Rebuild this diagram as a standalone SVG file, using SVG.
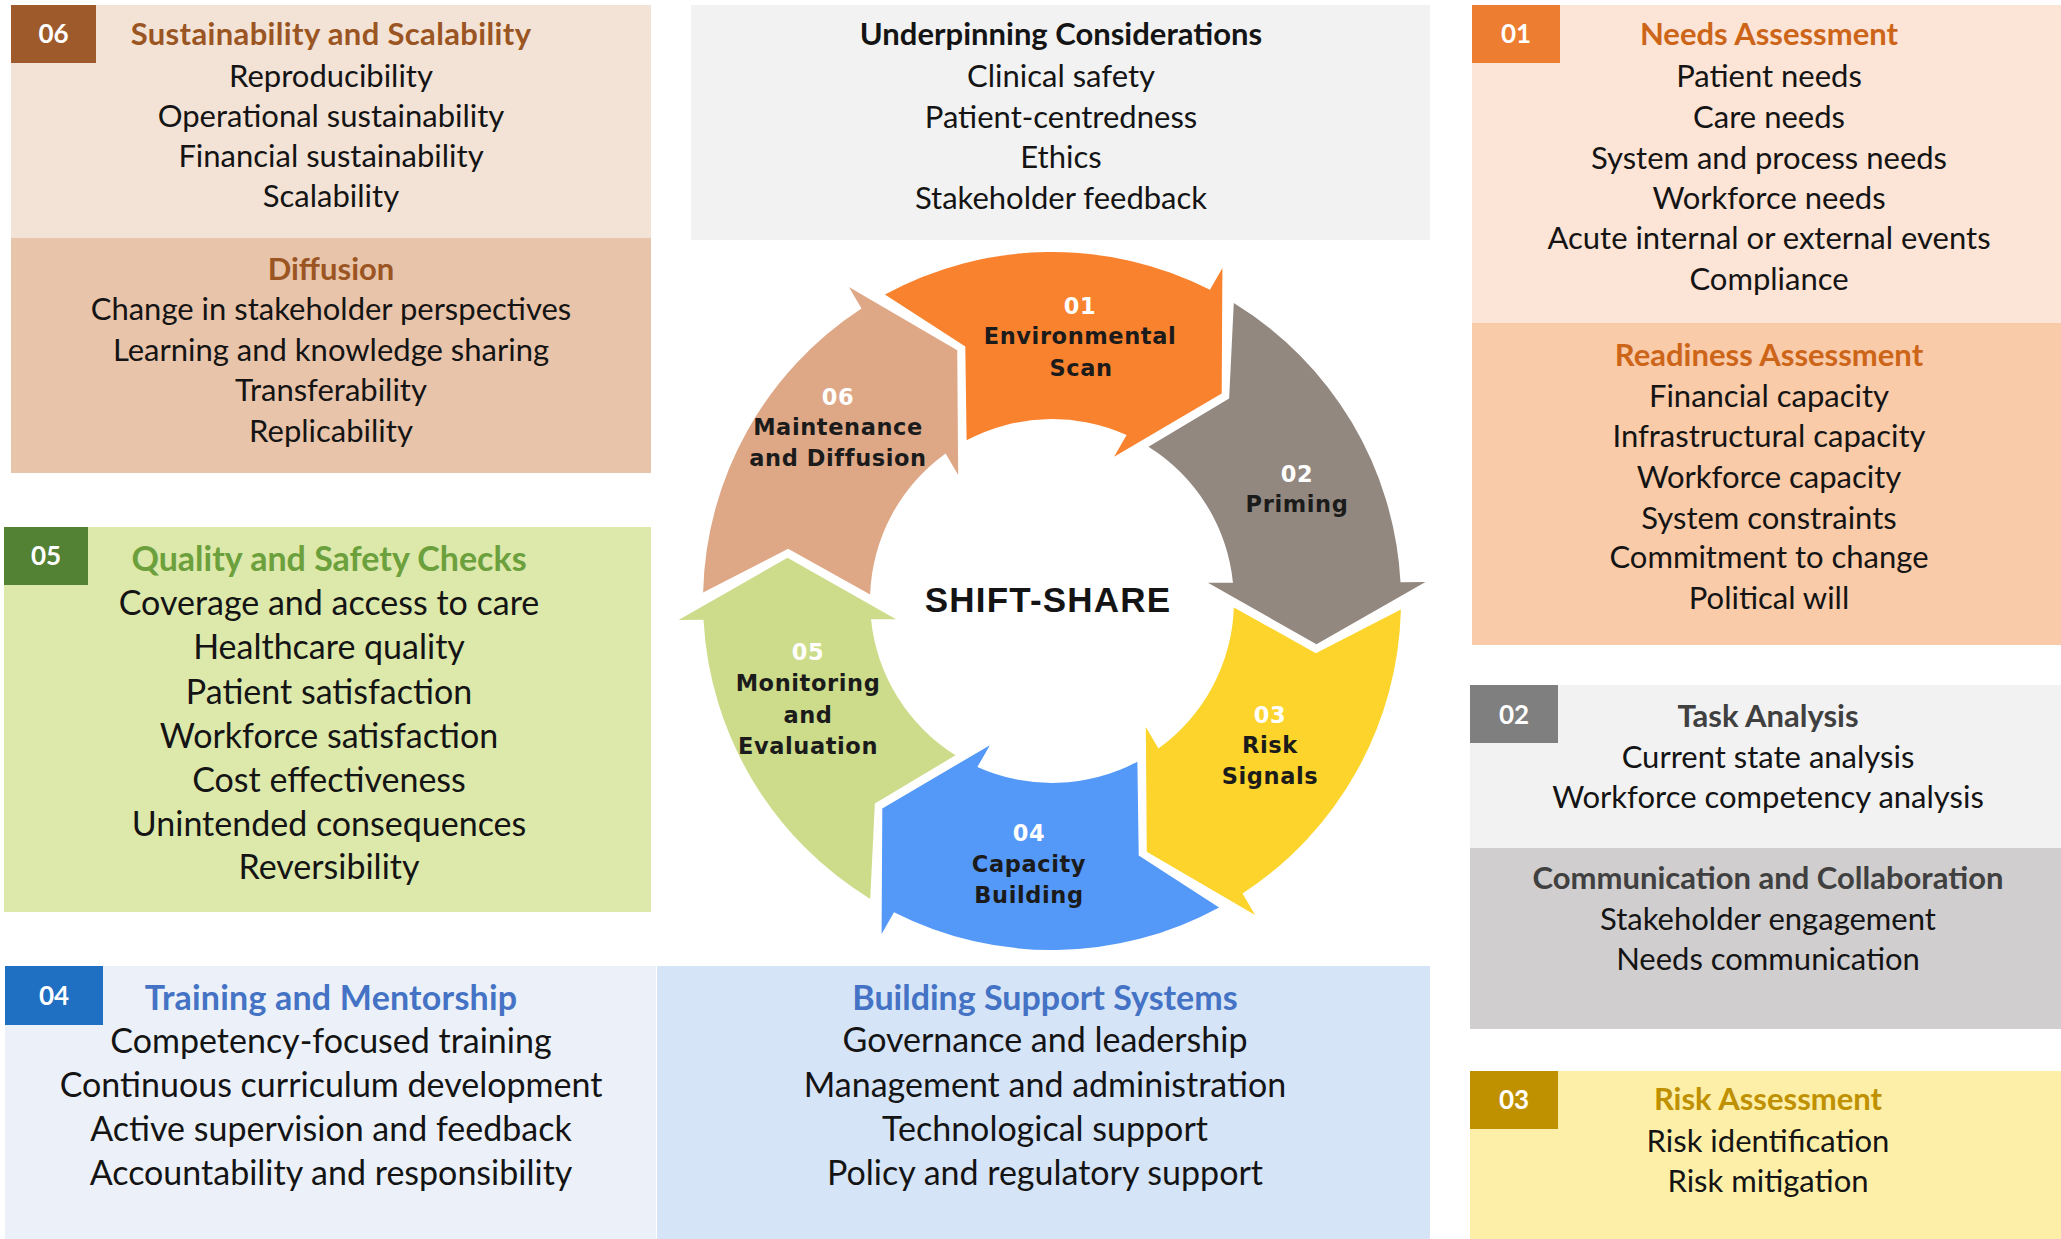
<svg xmlns="http://www.w3.org/2000/svg" width="2061" height="1239" viewBox="0 0 2061 1239">
  <style>
    .t { font-family: Lato, "Open Sans", "Liberation Sans", sans-serif; text-anchor: middle; fill: #141414; }
    .m { font-size: 31px; }
    .l { font-size: 34px; }
    .b { font-weight: 700; }
    .badge { font-family: Lato, "Liberation Sans", sans-serif; font-weight: 700; font-size: 26px; fill: #ffffff; text-anchor: middle; }
    .arrow-label { font-family: "DejaVu Sans", Verdana, sans-serif; font-weight: 700; font-size: 22.5px; letter-spacing: 0.6px; text-anchor: middle; fill: #1b1b1b; }
    .arrow-num { fill: #ffffff; }
    .hub { font-family: "Liberation Sans", Arial, sans-serif; font-weight: 700; font-size: 35px; letter-spacing: 1.2px; text-anchor: middle; fill: #141414; }
  </style>
  <defs>
    <!-- one curved arrow segment of the cycle (stage 01 position); the others are rotations about the hub -->
    <path id="cycle-arrow" d="M 884.9 294.6 L 965.3 346.4 L 966.6 440.3 A 182 182 0 0 1 1126.6 435.1 L 1114.1 456.8 L 1221.7 393.6 L 1222.4 268.1 L 1210.0 289.8 A 349 349 0 0 0 884.9 294.6 Z"/>
  </defs>

  <rect width="2061" height="1239" fill="#ffffff"/>

  <!-- 06 Sustainability and Scalability / Diffusion -->
  <g id="box-06">
    <rect x="11" y="5" width="640" height="233" fill="#F3E3D7"/>
    <rect x="11" y="238" width="640" height="235" fill="#E8C4AA"/>
    <rect x="11" y="5" width="85" height="58" fill="#9E5A2A"/>
    <text class="badge" x="53.5" y="43">06</text>
    <g transform="translate(331 0)">
      <text class="t m b" x="0" y="45" style="fill:#9A5522; letter-spacing:0.35px">Sustainability and Scalability</text>
      <text class="t m" x="0" y="87">Reproducibility</text>
      <text class="t m" x="0" y="127">Operational sustainability</text>
      <text class="t m" x="0" y="167">Financial sustainability</text>
      <text class="t m" x="0" y="207">Scalability</text>
      <text class="t m b" x="0" y="280" style="fill:#9A5522">Diffusion</text>
      <text class="t m" x="0" y="320">Change in stakeholder perspectives</text>
      <text class="t m" x="0" y="361">Learning and knowledge sharing</text>
      <text class="t m" x="0" y="401">Transferability</text>
      <text class="t m" x="0" y="442">Replicability</text>
    </g>
  </g>

  <!-- Underpinning considerations -->
  <g id="underpinning">
    <rect x="691" y="5" width="739" height="235" fill="#F2F2F2"/>
    <g transform="translate(1061 0)">
      <text class="t m b" x="0" y="45">Underpinning Considerations</text>
      <text class="t m" x="0" y="87">Clinical safety</text>
      <text class="t m" x="0" y="128">Patient-centredness</text>
      <text class="t m" x="0" y="168">Ethics</text>
      <text class="t m" x="0" y="209">Stakeholder feedback</text>
    </g>
  </g>

  <!-- 01 Needs / Readiness assessment -->
  <g id="box-01">
    <rect x="1472" y="5" width="589" height="318" fill="#FCE4D6"/>
    <rect x="1472" y="323" width="589" height="322" fill="#F9CBA9"/>
    <rect x="1472" y="5" width="88" height="58" fill="#ED7D31"/>
    <text class="badge" x="1516" y="43">01</text>
    <g transform="translate(1769 0)">
      <text class="t m b" x="0" y="45" style="fill:#CD6519">Needs Assessment</text>
      <text class="t m" x="0" y="87">Patient needs</text>
      <text class="t m" x="0" y="128">Care needs</text>
      <text class="t m" x="0" y="169">System and process needs</text>
      <text class="t m" x="0" y="209">Workforce needs</text>
      <text class="t m" x="0" y="249">Acute internal or external events</text>
      <text class="t m" x="0" y="290">Compliance</text>
      <text class="t m b" x="0" y="366" style="fill:#CD6519">Readiness Assessment</text>
      <text class="t m" x="0" y="407">Financial capacity</text>
      <text class="t m" x="0" y="447">Infrastructural capacity</text>
      <text class="t m" x="0" y="488">Workforce capacity</text>
      <text class="t m" x="0" y="529">System constraints</text>
      <text class="t m" x="0" y="568">Commitment to change</text>
      <text class="t m" x="0" y="609">Political will</text>
    </g>
  </g>

  <!-- 02 Task analysis / Communication -->
  <g id="box-02">
    <rect x="1470" y="685" width="591" height="163" fill="#F2F2F2"/>
    <rect x="1470" y="848" width="591" height="181" fill="#D0CECE"/>
    <rect x="1470" y="685" width="88" height="58" fill="#7F7F7F"/>
    <text class="badge" x="1514" y="724">02</text>
    <g transform="translate(1768 0)">
      <text class="t m b" x="0" y="727" style="fill:#404040">Task Analysis</text>
      <text class="t m" x="0" y="768">Current state analysis</text>
      <text class="t m" x="0" y="808">Workforce competency analysis</text>
      <text class="t m b" x="0" y="889" style="fill:#404040">Communication and Collaboration</text>
      <text class="t m" x="0" y="930">Stakeholder engagement</text>
      <text class="t m" x="0" y="970">Needs communication</text>
    </g>
  </g>

  <!-- 03 Risk assessment -->
  <g id="box-03">
    <rect x="1470" y="1071" width="591" height="168" fill="#FDEFA8"/>
    <rect x="1470" y="1071" width="88" height="58" fill="#BF9000"/>
    <text class="badge" x="1514" y="1109">03</text>
    <g transform="translate(1768 0)">
      <text class="t m b" x="0" y="1110" style="fill:#BF9000">Risk Assessment</text>
      <text class="t m" x="0" y="1152">Risk identification</text>
      <text class="t m" x="0" y="1192">Risk mitigation</text>
    </g>
  </g>

  <!-- 05 Quality and safety checks -->
  <g id="box-05">
    <rect x="4" y="527" width="647" height="385" fill="#DDE8AB"/>
    <rect x="4" y="527" width="84" height="58" fill="#548235"/>
    <text class="badge" x="46" y="565">05</text>
    <g transform="translate(329 0)">
      <text class="t l b" x="0" y="571" style="fill:#6BA03C">Quality and Safety Checks</text>
      <text class="t l" x="0" y="615">Coverage and access to care</text>
      <text class="t l" x="0" y="659">Healthcare quality</text>
      <text class="t l" x="0" y="704">Patient satisfaction</text>
      <text class="t l" x="0" y="748">Workforce satisfaction</text>
      <text class="t l" x="0" y="792">Cost effectiveness</text>
      <text class="t l" x="0" y="836">Unintended consequences</text>
      <text class="t l" x="0" y="879">Reversibility</text>
    </g>
  </g>

  <!-- 04 Training and mentorship -->
  <g id="box-04">
    <rect x="5" y="966" width="651" height="273" fill="#ECF1F9"/>
    <rect x="5" y="966" width="98" height="59" fill="#1F6FC3"/>
    <text class="badge" x="54" y="1005">04</text>
    <g transform="translate(331 0)">
      <text class="t l b" x="0" y="1010" style="fill:#4472C4; letter-spacing:0.2px">Training and Mentorship</text>
      <text class="t l" x="0" y="1053">Competency-focused training</text>
      <text class="t l" x="0" y="1097">Continuous curriculum development</text>
      <text class="t l" x="0" y="1141">Active supervision and feedback</text>
      <text class="t l" x="0" y="1185">Accountability and responsibility</text>
    </g>
  </g>

  <!-- Building support systems -->
  <g id="box-support">
    <rect x="657" y="966" width="773" height="273" fill="#D6E4F8"/>
    <g transform="translate(1045 0)">
      <text class="t l b" x="0" y="1010" style="fill:#4472C4">Building Support Systems</text>
      <text class="t l" x="0" y="1052">Governance and leadership</text>
      <text class="t l" x="0" y="1097">Management and administration</text>
      <text class="t l" x="0" y="1141">Technological support</text>
      <text class="t l" x="0" y="1185">Policy and regulatory support</text>
    </g>
  </g>

  <!-- SHIFT-SHARE cycle: six arrows, each rotated 60 degrees clockwise from the previous -->
  <g id="cycle">
    <g id="stage-01">
      <use href="#cycle-arrow" fill="#F9822E"/>
      <text class="arrow-label arrow-num" x="1080" y="314">01</text>
      <text class="arrow-label" x="1080" y="344">Environmental</text>
      <text class="arrow-label" x="1081" y="376">Scan</text>
    </g>
    <g id="stage-02">
      <use href="#cycle-arrow" fill="#938880" transform="rotate(60 1052 601)"/>
      <text class="arrow-label arrow-num" x="1297" y="482">02</text>
      <text class="arrow-label" x="1297" y="512">Priming</text>
    </g>
    <g id="stage-03">
      <use href="#cycle-arrow" fill="#FCD42C" transform="rotate(120 1052 601)"/>
      <text class="arrow-label arrow-num" x="1270" y="723">03</text>
      <text class="arrow-label" x="1270" y="753">Risk</text>
      <text class="arrow-label" x="1270" y="784">Signals</text>
    </g>
    <g id="stage-04">
      <use href="#cycle-arrow" fill="#5499F8" transform="rotate(180 1052 601)"/>
      <text class="arrow-label arrow-num" x="1029" y="841">04</text>
      <text class="arrow-label" x="1029" y="872">Capacity</text>
      <text class="arrow-label" x="1029" y="903">Building</text>
    </g>
    <g id="stage-05">
      <use href="#cycle-arrow" fill="#CDDC8A" transform="rotate(240 1052 601)"/>
      <text class="arrow-label arrow-num" x="808" y="660">05</text>
      <text class="arrow-label" x="808" y="691">Monitoring</text>
      <text class="arrow-label" x="808" y="723">and</text>
      <text class="arrow-label" x="808" y="754">Evaluation</text>
    </g>
    <g id="stage-06">
      <use href="#cycle-arrow" fill="#DEA887" transform="rotate(300 1052 601)"/>
      <text class="arrow-label arrow-num" x="838" y="405">06</text>
      <text class="arrow-label" x="838" y="435">Maintenance</text>
      <text class="arrow-label" x="838" y="466">and Diffusion</text>
    </g>
    <text id="hub" class="hub" x="1048" y="612">SHIFT-SHARE</text>
  </g>
</svg>
